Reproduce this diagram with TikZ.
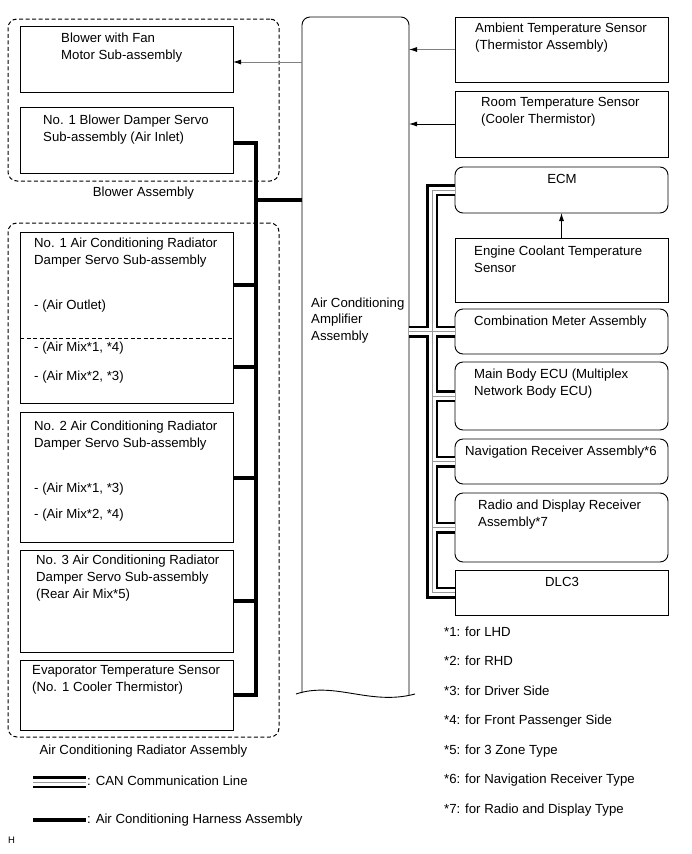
\documentclass[tikz,border=0pt]{standalone}
\usepackage{fontspec}
\setmainfont{Liberation Sans}
\usetikzlibrary{positioning,arrows.meta}

\tikzset{
  part/.style={draw, line width=0.9pt, anchor=north west, inner sep=0pt, outer sep=0pt, minimum width=213pt},
  ecu/.style={part, rounded corners=8pt},
  assy/.style={draw, line width=1pt, dash pattern=on 4pt off 2.5pt, rounded corners=9pt, anchor=north west, inner sep=0pt, outer sep=0pt, minimum width=271pt},
  txt/.style={inner sep=0pt, anchor=base west, align=left, font=\fontsize{13.2}{17}\selectfont},
  harness/.style={line width=3.6pt},
  can/.style={draw=black, line width=12pt, postaction={draw=white, line width=7pt}, postaction={draw=gray!80, line width=0.8pt}},
  sig/.style={line width=0.8pt, -{Latex[length=8pt,width=5pt,color=black]}},
}

\begin{document}
\begin{tikzpicture}[x=1pt, y=-1pt]
\useasboundingbox (0,0) rectangle (691,854);

% blower assembly
\node[assy, minimum height=162pt] (blowerassy) at (8,19) {};
\node[part, minimum height=66pt] (fanmotor) at (20,26) {};
\node[part, minimum height=66pt] (blowerservo) at (20,107) {};
\node[txt] (fanmotortxt) at (61,59) {Blower with Fan\\Motor Sub-assembly};
\node[txt] (blowerservotxt) at (43,141) {No. 1 Blower Damper Servo\\Sub-assembly (Air Inlet)};
\node[txt, anchor=north, below=6pt of blowerassy] (blowerassytxt) {Blower Assembly};

% air conditioning radiator assembly
\node[assy, minimum height=514pt] (radassy) at (8,223) {};
\node[part, minimum height=171pt] (acservo1) at (20,232) {};
\node[part, minimum height=130pt] (acservo2) at (20,412) {};
\node[part, minimum height=102pt] (acservo3) at (20,550) {};
\node[part, minimum height=70pt] (evapsensor) at (20,660) {};
\draw[line width=0.9pt, dash pattern=on 4pt off 2.5pt] ([yshift=-106pt]acservo1.north west) -- ([yshift=-106pt]acservo1.north east);
\node[txt] (acservo1txt) at (34,264) {No. 1 Air Conditioning Radiator\\Damper Servo Sub-assembly};
\node[txt] (outlettxt) at (34,309) {- (Air Outlet)};
\node[txt] (mix14txt) at (34,351) {- (Air Mix*1, *4)};
\node[txt] (mix23txt) at (34,380) {- (Air Mix*2, *3)};
\node[txt] (acservo2txt) at (34,447) {No. 2 Air Conditioning Radiator\\Damper Servo Sub-assembly};
\node[txt] (mix13txt) at (34,492) {- (Air Mix*1, *3)};
\node[txt] (mix24txt) at (34,518) {- (Air Mix*2, *4)};
\node[txt] (acservo3txt) at (36,598) {No. 3 Air Conditioning Radiator\\Damper Servo Sub-assembly\\(Rear Air Mix*5)};
\node[txt] (evapsensortxt) at (32,691) {Evaporator Temperature Sensor\\(No. 1 Cooler Thermistor)};
\node[txt, anchor=north, below=8pt of radassy] (radassytxt) {Air Conditioning Radiator Assembly};

% amplifier
\node[anchor=north west, inner sep=0pt, outer sep=0pt, minimum width=107pt, minimum height=676pt] (amp) at (302,17) {};
\draw[line width=0.9pt, rounded corners=8pt] (amp.south west) |- (amp.north east) -- ([yshift=-2pt]amp.south east);
\draw[line width=0.9pt] (296,694) .. controls (335,681) and (370,706) .. (415,694);
\node[txt, font=\fontsize{13.2}{16.5}\selectfont] (amptxt) at (311,340) {Air Conditioning\\Amplifier\\Assembly};

% right side
\node[part, minimum height=65pt] (ambient) at (455,17) {};
\node[part, minimum height=66pt] (room) at (455,91) {};
\node[ecu, minimum height=46pt] (ecm) at (455,167) {};
\node[part, minimum height=64pt] (coolant) at (455,238) {};
\node[ecu, minimum height=45pt] (meter) at (455,309) {};
\node[ecu, minimum height=68pt] (mainbody) at (455,362) {};
\node[ecu, minimum height=45pt] (navi) at (455,439) {};
\node[ecu, minimum height=69pt] (radio) at (455,493) {};
\node[part, minimum height=45pt] (dlc) at (455,570) {};
\node[txt] (ambienttxt) at (475,49) {Ambient Temperature Sensor\\(Thermistor Assembly)};
\node[txt] (roomtxt) at (481,123) {Room Temperature Sensor\\(Cooler Thermistor)};
\node[txt, anchor=base] (ecmtxt) at (562,183) {ECM};
\node[txt] (coolanttxt) at (474,272) {Engine Coolant Temperature\\Sensor};
\node[txt] (metertxt) at (474,325) {Combination Meter Assembly};
\node[txt] (mainbodytxt) at (474,395) {Main Body ECU (Multiplex\\Network Body ECU)};
\node[txt] (navitxt) at (465,455) {Navigation Receiver Assembly*6};
\node[txt] (radiotxt) at (478,526) {Radio and Display Receiver\\Assembly*7};
\node[txt, anchor=base] (dlctxt) at (562,586) {DLC3};

% signals
\draw[sig, draw=gray] ([yshift=-3pt]amp.west |- fanmotor.east) -- ([yshift=-3pt]fanmotor.east);
\draw[sig, draw=gray] (ambient.west) -- (ambient.west -| amp.east);
\draw[sig] (room.west) -- (room.west -| amp.east);
\draw[sig] (coolant.north) -- (ecm.south);

% harness
\coordinate (hbus) at (256,200);
\draw[harness] ([yshift=-3pt]blowerservo.east) -| (hbus |- evapsensor.east) -- (evapsensor.east);
\draw[harness] (hbus) -- (hbus -| amp.west);
\foreach \n/\d in {acservo1/53, acservo1/135, acservo2/66, acservo3/51}
  \draw[harness] ([yshift=-\d pt]\n.north east) coordinate (t) -- (t -| hbus);

% CAN
\coordinate (cbus) at (432,0);
\draw[can] (ecm.west) -| (cbus |- dlc.west) -- (dlc.west)
  (amp.east |- meter.west) -- (meter.west)
  (cbus |- mainbody.west) -- (mainbody.west)
  (cbus |- navi.west) -- (navi.west)
  (cbus |- radio.west) -- (radio.west);

% notes
\foreach \t [count=\k] in {LHD, RHD, Driver Side, Front Passenger Side, 3 Zone Type, Navigation Receiver Type, Radio and Display Type}
  \node[txt] (note\k) at (444,{636+29.5*(\k-1)}) {*\k: for \t};

% legend
\coordinate (canA) at (33,782);
\coordinate (canB) at (86,782);
\draw[can] (canA) -- (canB);
\node[txt] (cantxt) at (87,785) {: CAN Communication Line};
\coordinate (harnA) at (33,819.5);
\coordinate (harnB) at (86,819.5);
\draw[harness, line width=4pt] (harnA) -- (harnB);
\node[txt] (harntxt) at (87,823) {: Air Conditioning Harness Assembly};
\node[txt, font=\fontsize{9.5}{11}\selectfont] (figid) at (8,843) {H};
\end{tikzpicture}
\end{document}
